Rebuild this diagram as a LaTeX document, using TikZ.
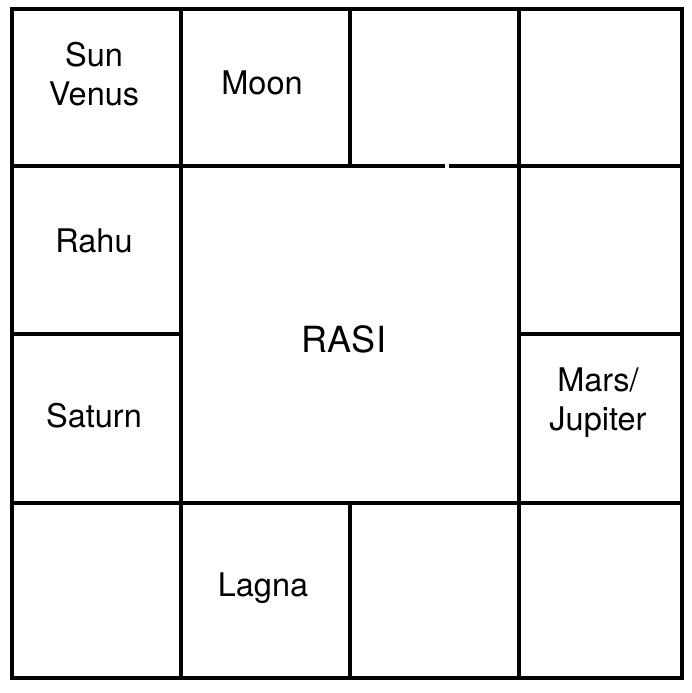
\documentclass[tikz,border=0pt]{standalone}
\usepackage{fontspec}
\setmainfont{TeX Gyre Heros}
\begin{document}
\begin{tikzpicture}[x=1pt,y=-1pt,
  grid/.style={line width=3.4pt,line cap=rect},
  frame/.style={line width=4pt,line join=miter},
  planet/.style={inner sep=0pt,align=center,anchor=base,font=\fontsize{32.5}{39}\selectfont},
  title/.style={inner sep=0pt,anchor=base,font=\fontsize{36}{40}\selectfont}]
\useasboundingbox (0,0) rectangle (692,693);
% outer frame
\draw[frame] (12,9) rectangle (682,678);
% horizontal lines
\draw[grid] (12,166) -- (443,166);
\draw[grid] (451,166) -- (682,166);
\draw[grid] (12,503) -- (682,503);
\draw[grid] (12,334) -- (181,334);
\draw[grid] (519,334) -- (682,334);
% vertical lines
\draw[grid] (181,9) -- (181,678);
\draw[grid] (519,9) -- (519,678);
\draw[grid] (350,9) -- (350,166);
\draw[grid] (350,503) -- (350,678);
% labels
\node[planet] (sun) at (94,105) {Sun\\Venus};
\node[planet] (moon) at (262,94) {Moon};
\node[planet] (rahu) at (94,252) {Rahu};
\node[planet] (saturn) at (94,427) {Saturn};
\node[title] (rasi) at (344,352) {RASI};
\node[planet] (mars) at (598,430) {Mars/\\Jupiter};
\node[planet] (lagna) at (263,596) {Lagna};
\end{tikzpicture}
\end{document}
